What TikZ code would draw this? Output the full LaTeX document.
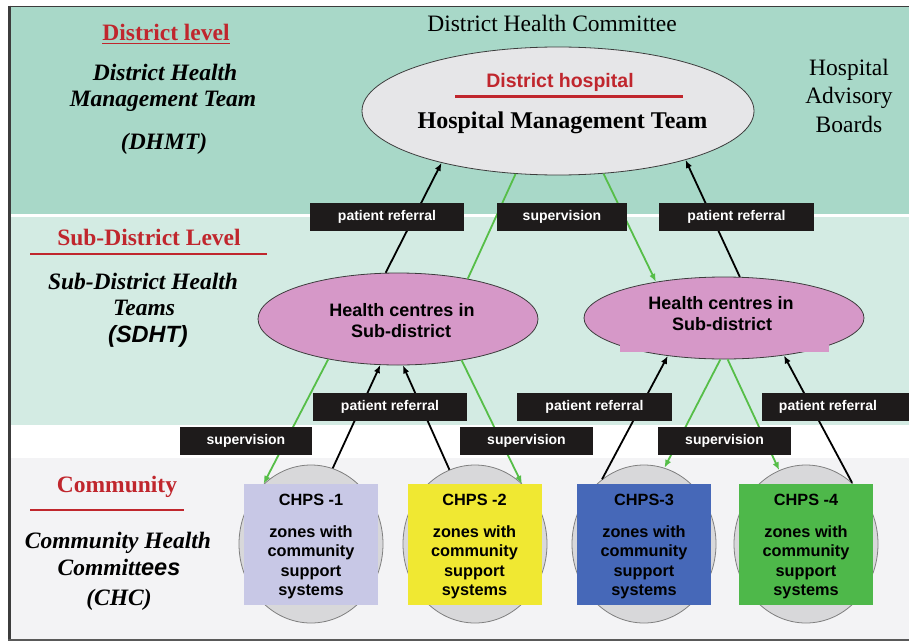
\documentclass[tikz,border=0pt]{standalone}
\usepackage{fontspec}
\setmainfont{Liberation Serif}
\setsansfont{Liberation Sans}
\usetikzlibrary{shapes.geometric,arrows.meta}

\definecolor{distband}{RGB}{168,216,200}
\definecolor{subband}{RGB}{211,235,227}
\definecolor{comband}{RGB}{243,243,245}
\definecolor{hdred}{RGB}{192,38,45}
\definecolor{hospgray}{RGB}{230,230,232}
\definecolor{centrepink}{RGB}{214,152,200}
\definecolor{zonegray}{RGB}{216,216,218}
\definecolor{tagblack}{RGB}{30,27,27}
\definecolor{supgreen}{RGB}{86,190,72}
\definecolor{framegray}{RGB}{60,60,60}
\definecolor{chpslav}{RGB}{200,200,230}
\definecolor{chpsyel}{RGB}{240,232,50}
\definecolor{chpsblue}{RGB}{70,104,184}
\definecolor{chpsgreen}{RGB}{78,184,74}

\tikzset{
  lvlhead/.style={inner sep=0pt, anchor=base, text=hdred,
    font=\fontsize{23.5}{26}\selectfont\bfseries},
  lvlname/.style={inner sep=0pt, anchor=base,
    font=\fontsize{23.5}{26}\selectfont\bfseries\itshape},
  plainserif/.style={inner sep=0pt, anchor=base,
    font=\fontsize{23.5}{26}\selectfont},
  hospell/.style={ellipse, draw=framegray, line width=0.8pt, fill=hospgray,
    minimum width=392pt, minimum height=128pt, inner sep=0pt},
  centre/.style={ellipse, draw=framegray, line width=0.8pt, fill=centrepink,
    minimum width=280pt, inner sep=0pt},
  centretext/.style={inner sep=0pt, anchor=base,
    font=\sffamily\bfseries\fontsize{18}{20}\selectfont},
  zone/.style={ellipse, draw=gray, line width=0.8pt, fill=zonegray,
    minimum width=144pt, minimum height=158pt, inner sep=0pt},
  chps/.style={minimum width=134pt, minimum height=121pt, inner sep=0pt},
  chpstext/.style={inner sep=0pt, align=center,
    font=\sffamily\bfseries\fontsize{16.3}{19.5}\selectfont},
  tag/.style={fill=tagblack, text=white, minimum height=28pt, inner sep=0pt,
    font=\sffamily\bfseries\fontsize{14}{16}\selectfont},
  referral/.style={draw=black, line width=1.8pt,
    -{Latex[length=8pt,width=6.5pt]}},
  superv/.style={draw=supgreen, line width=1.8pt,
    -{Latex[length=8pt,width=6.5pt]}},
  supervplain/.style={draw=supgreen, line width=1.8pt}
}

\begin{document}
\begin{tikzpicture}[x=1pt,y=-1pt]
\useasboundingbox (0,0) rectangle (909,642);
\fill[white] (0,0) rectangle (909,642);

% level bands
\fill[distband] (10,7) rectangle (909,214);
\fill[subband] (10,217) rectangle (909,425);
\fill[comband] (10,458) rectangle (909,639);

% frame
\draw[framegray, line width=1.5pt] (9,6.5) -- (909,6.5);
\draw[framegray, line width=3pt] (9.5,5.75) -- (9.5,641);
\draw[gray!70!black, line width=2.5pt] (8,640) -- (909,640);

% district level labels
\node[lvlhead] (dlhead) at (166,41) {District level};
\draw[hdred, line width=1.3pt] ([yshift=-2.5pt]dlhead.base west) -- ([yshift=-2.5pt]dlhead.base east);
\node[lvlname] (dhmt1) at (165,81) {District Health};
\node[lvlname] (dhmt2) at (163,106) {Management Team};
\node[lvlname] (dhmt3) at (164,149) {(DHMT)};
\node[plainserif] (dhc) at (552,32) {District Health Committee};
\node[plainserif] (hab1) at (849,75) {Hospital};
\node[plainserif] (hab2) at (849,103) {Advisory};
\node[plainserif] (hab3) at (849,132) {Boards};

% sub-district level labels
\node[lvlhead] (sdhead) at (149,245) {Sub-District Level};
\draw[hdred, line width=2.5pt] (30,254) -- (267,254);
\node[lvlname] (sdht1) at (143,289) {Sub-District Health};
\node[lvlname] (sdht2) at (144,315) {Teams};
\node[lvlname, font=\sffamily\bfseries\itshape\fontsize{23.5}{26}\selectfont] (sdht3) at (148,342) {(SDHT)};

% community level labels
\node[lvlhead] (cmhead) at (117,492) {Community};
\draw[hdred, line width=2.5pt] (30,510) -- (184,510);
\node[lvlname] (chc1) at (118,548) {Community Health};
\node[lvlname] (chc2) at (119,575) {Committ{\sffamily ees}};
\node[lvlname] (chc3) at (119,605) {(CHC)};

% district hospital
\node[hospell] (hosp) at (558,111) {};
\node[inner sep=0pt, anchor=base, text=hdred, font=\sffamily\bfseries\fontsize{19.5}{22}\selectfont] (dhosp) at (560,87) {District hospital};
\draw[hdred, line width=3pt] (455,96.5) -- (683,96.5);
\node[inner sep=0pt, anchor=base, font=\bfseries\fontsize{24}{26}\selectfont] (hmt) at (562.5,128) {Hospital Management Team};

% sub-district health centres
\node[centre, minimum height=92pt] (hcl) at (398,319) {};
\node[centre, minimum height=82pt] (hcr) at (724,318) {};
\fill[centrepink] (620,344) rectangle (829,352);
\node[centretext] (hcl1) at (402,316) {Health centres in};
\node[centretext] (hcl2) at (401,337) {Sub-district};
\node[centretext] (hcr1) at (721,309) {Health centres in};
\node[centretext] (hcr2) at (722,330) {Sub-district};

% community zones
\node[zone] (z1) at (311,544) {};
\node[zone] (z2) at (475,544) {};
\node[zone] (z3) at (644,544) {};
\node[zone] (z4) at (806,544) {};
\node[chps, fill=chpslav] (c1) at (311,544.5) {};
\node[chps, fill=chpsyel] (c2) at (474.5,544.5) {};
\node[chps, fill=chpsblue] (c3) at (644,544.5) {};
\node[chps, fill=chpsgreen] (c4) at (806,544.5) {};
\node[chpstext] (c1t) at (311,546.3) {CHPS -1\\[12.5pt]zones with\\community\\support\\systems};
\node[chpstext] (c2t) at (474.5,546.3) {CHPS -2\\[12.5pt]zones with\\community\\support\\systems};
\node[chpstext] (c3t) at (644,546.3) {CHPS-3\\[12.5pt]zones with\\community\\support\\systems};
\node[chpstext] (c4t) at (806,546.3) {CHPS -4\\[12.5pt]zones with\\community\\support\\systems};

% patient referral (upwards)
\draw[referral] (hcl.105) -- (hosp.204);
\draw[referral] (hcr.69) -- (hosp.339);
\draw[referral] (z1.74) -- (hcl.249);
\draw[referral] (z2.109) -- (hcl.276);
\draw[referral] (z3.123) -- (hcr.214);
\draw[referral] (z4.53) -- (hcr.328);

% supervision (downwards)
\draw[supervplain] (hosp.236) -- (hcl.30);
\draw[superv] (hosp.306) -- (hcr.152);
\draw[superv] (hcl.210) -- (c1.128);
\draw[superv] (hcl.327) -- (c2.52);
\draw[superv] (hcr.265) -- (z3.75);
\draw[superv] (hcr.275) -- (z4.110);

% connector labels
\node[tag, minimum width=154pt] (t1) at (387,217) {patient referral};
\node[tag, minimum width=130pt] (t2) at (562,217) {supervision};
\node[tag, minimum width=155pt] (t3) at (736.5,217) {patient referral};
\node[tag, minimum width=154pt] (t4) at (390,406.5) {patient referral};
\node[tag, minimum width=155pt] (t5) at (594.5,406.5) {patient referral};
\node[tag, minimum width=147pt] (t6) at (835.5,406.5) {patient referral\hspace*{15pt}};
\node[tag, minimum width=132pt] (t7) at (246,440.5) {supervision};
\node[tag, minimum width=133pt] (t8) at (526.5,441) {supervision};
\node[tag, minimum width=133pt] (t9) at (724.5,441) {supervision};
\end{tikzpicture}
\end{document}
